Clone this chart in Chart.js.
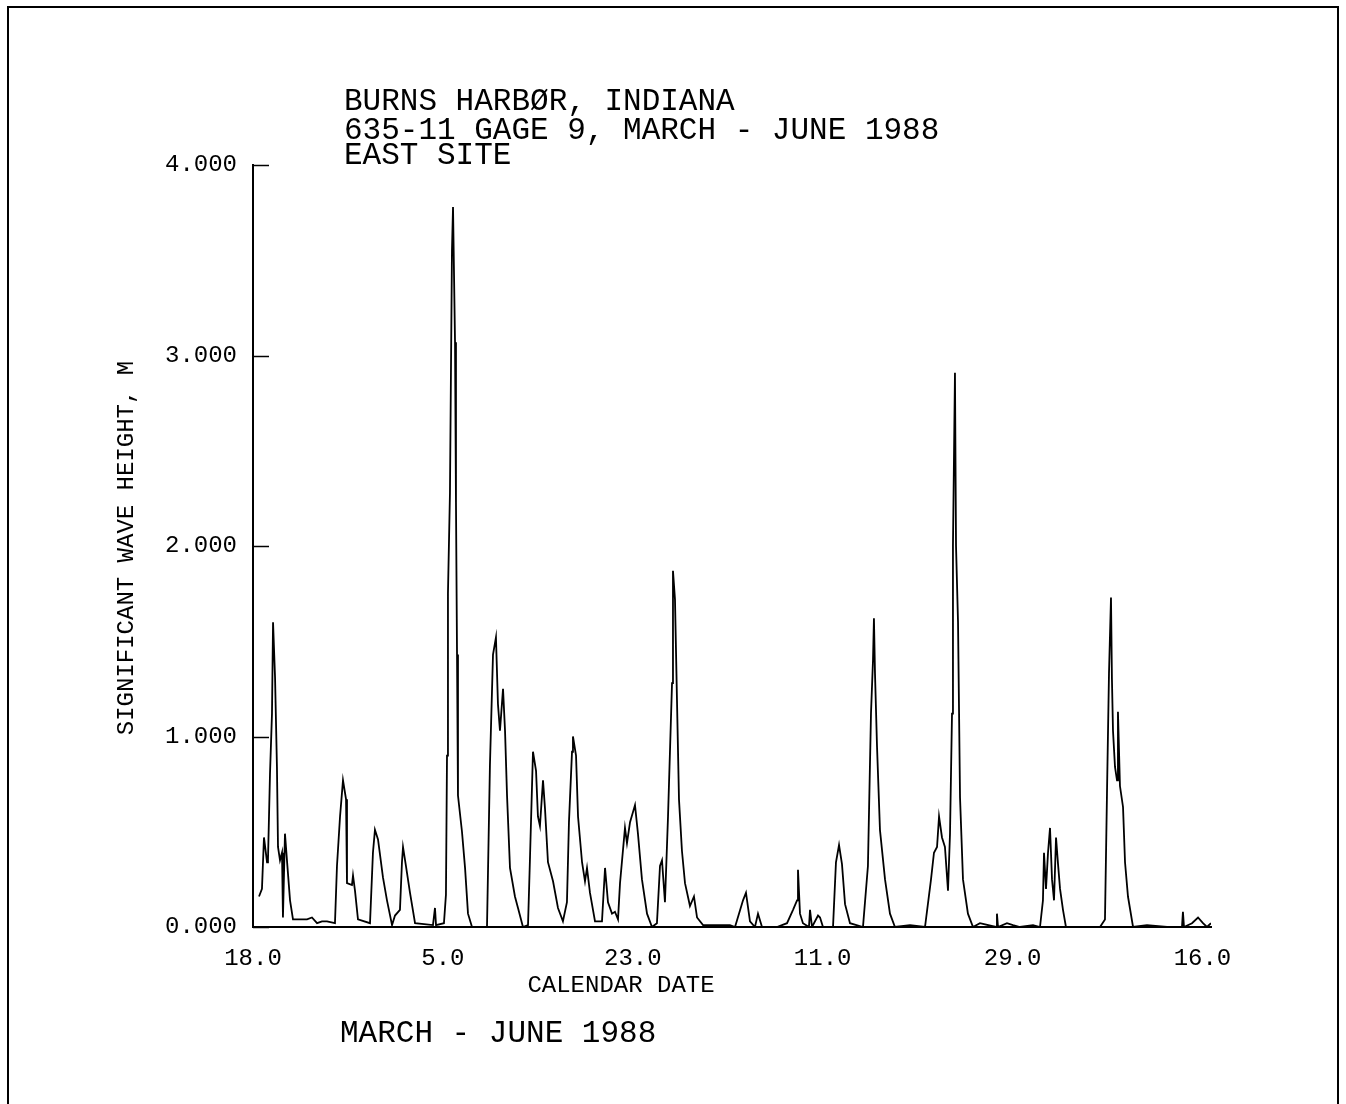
<!DOCTYPE html>
<html>
<head>
<meta charset="utf-8">
<script src="https://cdn.jsdelivr.net/npm/chart.js@4.4.1/dist/chart.umd.min.js"></script>
<style>
  body { margin: 0; background: #fff; }
  #wrap { width: 1346px; height: 1104px; }
</style>
</head>
<body>
<div id="wrap"><canvas id="waveChart" width="1346" height="1104"></canvas></div>
<script>
// days since 18 March 1988 / significant wave height (m)
const days = [
  0.57, 0.85, 1.04, 1.33, 1.42, 1.61, 1.80, 1.90, 2.09, 2.27, 2.37, 2.56, 2.75, 2.84, 3.03, 3.22, 3.51, 3.79, 4.46, 5.12, 5.59, 6.07, 6.54, 7.01, 7.77,
  7.96, 8.25, 8.53, 8.82, 8.91, 9.38, 9.48, 9.67, 9.95, 11.09, 11.37, 11.56, 11.85, 12.32, 12.70, 13.18, 13.46, 13.93, 14.12, 14.22, 14.50, 14.88, 15.36, 17.06, 17.25, 17.35,
  18.10, 18.29, 18.39, 18.48, 18.67, 18.86, 18.96, 19.15, 19.24, 19.34, 19.43, 19.81, 20.10, 20.38, 20.76, 22.18,
  22.46, 22.75, 23.03, 23.22, 23.41, 23.70, 23.89, 24.08, 24.36, 24.83, 25.12, 25.59, 26.07, 26.26, 26.54, 26.83, 27.01, 27.20, 27.49, 27.68, 27.96, 28.44, 28.91, 29.38, 29.76, 29.95, 30.24, 30.33, 30.62, 30.81, 31.19, 31.47, 31.66, 31.94, 32.42,
  33.08, 33.37, 33.65, 34.03, 34.31, 34.60, 34.79, 35.26, 35.45, 35.74, 36.21, 36.49, 36.87, 37.35, 37.82, 38.29, 38.58, 38.77, 39.05, 39.34, 39.72, 39.81, 40.00, 40.19, 40.38, 40.66, 40.95, 41.42, 41.80, 42.09, 42.66, 45.21, 45.69,
  46.45, 46.73, 47.11, 47.58, 47.87, 48.25, 49.67, 50.62, 51.19, 51.57, 51.66, 51.85, 52.13, 52.70, 52.80, 52.99, 53.56, 53.75, 54.03, 54.98, 55.26, 55.55, 55.83, 56.12, 56.59, 57.82, 58.29, 58.58, 58.77, 58.86, 58.96, 59.15, 59.43, 59.91, 60.38, 60.85, 62.28, 63.70,
  64.27, 64.55, 64.84, 65.03, 65.31, 65.59, 65.88, 66.07, 66.26, 66.35, 66.54, 66.64, 66.83, 67.02, 67.30, 67.77, 68.25, 68.91, 70.43, 70.52, 70.62, 71.47, 72.04, 72.70, 73.94,
  74.60, 74.88, 74.98, 75.17, 75.36, 75.55, 75.74, 75.93, 76.12, 76.31, 76.50, 76.78, 77.06, 80.29, 80.76, 80.95, 81.14, 81.33, 81.42, 81.52, 81.71, 81.90, 81.99, 82.18, 82.47,
  82.66, 82.94, 83.42, 84.74, 86.64, 88.06, 88.15, 88.25, 89.01, 89.58, 90.05, 90.43, 90.81
];
const heights = [
  0.16, 0.20, 0.47, 0.34, 0.35, 0.80, 1.12, 1.60, 1.31, 0.84, 0.42, 0.35, 0.39, 0.05, 0.49, 0.35, 0.14, 0.04, 0.04, 0.04, 0.05, 0.02, 0.03, 0.03, 0.02,
  0.32, 0.58, 0.77, 0.67, 0.23, 0.22, 0.27, 0.19, 0.04, 0.02, 0.39, 0.51, 0.46, 0.26, 0.14, 0.01, 0.06, 0.09, 0.34, 0.42, 0.32, 0.18, 0.02, 0.01, 0.10, 0.01,
  0.02, 0.17, 0.90, 1.75, 2.28, 3.55, 3.78, 3.07, 2.23, 1.43, 0.69, 0.50, 0.31, 0.07, 0.00, 0.00,
  0.85, 1.43, 1.52, 1.17, 1.03, 1.25, 1.03, 0.69, 0.31, 0.16, 0.10, 0.00, 0.01, 0.37, 0.92, 0.82, 0.58, 0.53, 0.77, 0.62, 0.34, 0.24, 0.10, 0.03, 0.13, 0.55, 0.92, 1.00, 0.90, 0.58, 0.34, 0.24, 0.31, 0.18, 0.03,
  0.03, 0.31, 0.13, 0.07, 0.08, 0.04, 0.23, 0.52, 0.44, 0.55, 0.64, 0.49, 0.25, 0.07, 0.00, 0.02, 0.32, 0.35, 0.13, 0.58, 1.28, 1.87, 1.72, 1.19, 0.67, 0.40, 0.23, 0.11, 0.16, 0.05, 0.01, 0.01, 0.00,
  0.14, 0.18, 0.03, 0.00, 0.07, 0.00, 0.00, 0.02, 0.09, 0.14, 0.30, 0.07, 0.02, 0.00, 0.09, 0.00, 0.06, 0.05, 0.00, 0.00, 0.34, 0.43, 0.33, 0.12, 0.02, 0.00, 0.32, 1.12, 1.40, 1.62, 1.33, 0.95, 0.51, 0.25, 0.07, 0.00, 0.01, 0.00,
  0.25, 0.39, 0.42, 0.58, 0.47, 0.42, 0.19, 0.49, 1.12, 2.00, 2.91, 2.00, 1.60, 0.68, 0.25, 0.07, 0.00, 0.02, 0.00, 0.07, 0.00, 0.02, 0.01, 0.00, 0.01,
  0.00, 0.14, 0.39, 0.20, 0.39, 0.52, 0.25, 0.14, 0.47, 0.33, 0.20, 0.09, 0.00, 0.00, 0.04, 0.70, 1.33, 1.73, 1.30, 1.03, 0.84, 0.77, 1.13, 0.74, 0.63,
  0.34, 0.16, 0.00, 0.01, 0.00, 0.00, 0.08, 0.00, 0.02, 0.05, 0.02, 0.00, 0.02
];

const dateTicks = [0, 18, 36, 54, 72, 90];
const dateLabels = ['18.0', '5.0', '23.0', '11.0', '29.0', '16.0'];
const heightTicks = [0, 1, 2, 3, 4];

const titleLines = ['BURNS HARBØR, INDIANA', '635-11 GAGE 9, MARCH - JUNE 1988', 'EAST SITE'];
const xTitle = 'CALENDAR DATE';
const yTitle = 'SIGNIFICANT WAVE HEIGHT, M';
const footer = 'MARCH - JUNE 1988';

const FONT = '"Liberation Mono", "DejaVu Sans Mono", monospace';

// frame, inward y ticks and the plotter lettering
const plotterDecor = {
    id: 'plotterDecor',
    afterDraw(chart) {
        const c = chart.ctx;
        const area = chart.chartArea;
        const yScale = chart.scales.y;
        c.save();
        c.strokeStyle = '#000';
        c.lineWidth = 2;
        c.beginPath();
        c.moveTo(8, 1104);
        c.lineTo(8, 7);
        c.lineTo(1338, 7);
        c.lineTo(1338, 1104);
        c.stroke();

        c.lineWidth = 1.5;
        heightTicks.forEach(v => {
            const y = Math.round(yScale.getPixelForValue(v)) + 0.5;
            c.beginPath();
            c.moveTo(area.left, y);
            c.lineTo(area.left + 16, y);
            c.stroke();
        });

        c.fillStyle = '#000';
        c.textAlign = 'left';
        c.textBaseline = 'alphabetic';
        c.font = '31px ' + FONT;
        [110, 139, 164].forEach((y, i) => c.fillText(titleLines[i], 344, y));
        c.fillText(footer, 340, 1042);

        c.font = '24px ' + FONT;
        c.textAlign = 'center';
        c.fillText(xTitle, 621, 992);

        c.translate(133, 548);
        c.rotate(-Math.PI / 2);
        c.fillText(yTitle, 0, 0);
        c.restore();
    }
};

const ctx = document.getElementById('waveChart').getContext('2d');
new Chart(ctx, {
    type: 'line',
    data: {
        datasets: [{
            data: days.map((d, i) => ({ x: d, y: heights[i] })),
            borderColor: '#000',
            borderWidth: 1.8,
            pointRadius: 0,
            tension: 0,
            fill: false
        }]
    },
    options: {
        responsive: false,
        animation: false,
        layout: { padding: { left: 0, top: 165, right: 135, bottom: 0 } },
        plugins: {
            legend: { display: false },
            tooltip: { enabled: false }
        },
        scales: {
            x: {
                type: 'linear',
                min: 0,
                max: 90.81,
                afterBuildTicks: s => { s.ticks = dateTicks.map(v => ({ value: v })); },
                afterFit: s => { s.height = 1104 - 927; },
                grid: { display: false, drawTicks: false },
                border: { display: true, color: '#000', width: 2 },
                ticks: {
                    padding: 17,
                    color: '#000',
                    maxRotation: 0,
                    autoSkip: false,
                    font: { family: FONT, size: 24 },
                    callback: v => dateLabels[dateTicks.indexOf(v)]
                }
            },
            y: {
                min: 0,
                max: 4,
                afterBuildTicks: s => { s.ticks = heightTicks.map(v => ({ value: v })); },
                afterFit: s => { s.width = 253; },
                grid: { display: false, drawTicks: false },
                border: { display: true, color: '#000', width: 2 },
                ticks: {
                    padding: 16,
                    color: '#000',
                    font: { family: FONT, size: 24 },
                    callback: v => v.toFixed(3)
                }
            }
        }
    },
    plugins: [plotterDecor]
});
</script>
</body>
</html>
